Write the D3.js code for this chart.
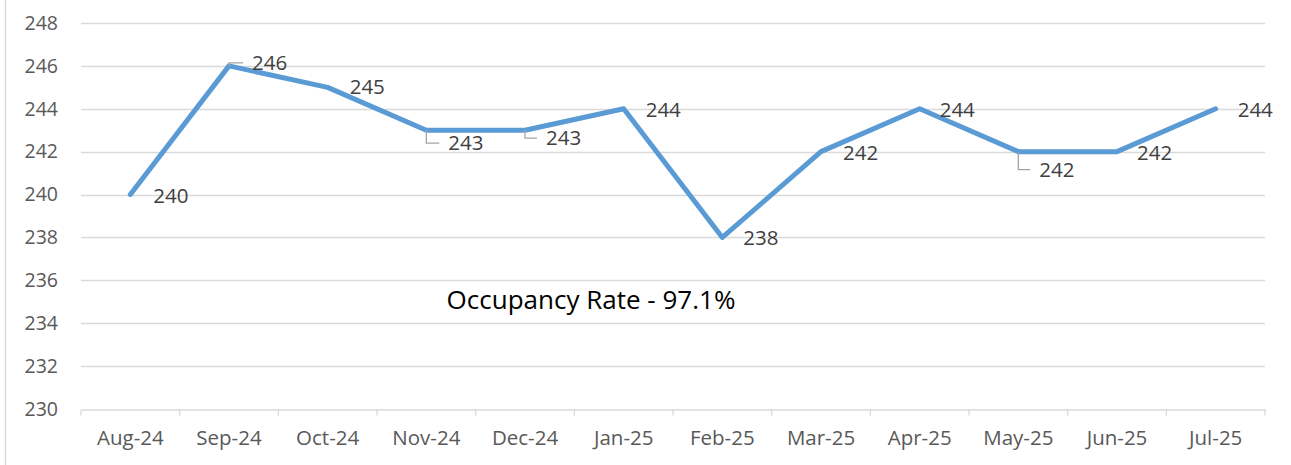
<!DOCTYPE html>
<html>
<head>
<meta charset="utf-8">
<script src="https://cdn.jsdelivr.net/npm/d3@7"></script>
<style>
  body { margin: 0; background: #fff; }
  svg { display: block; }
</style>
</head>
<body>
<svg id="drawing_region"></svg>
<script>
const months = ['Aug-24','Sep-24','Oct-24','Nov-24','Dec-24','Jan-25','Feb-25','Mar-25','Apr-25','May-25','Jun-25','Jul-25'];
const units = [240, 246, 245, 243, 243, 244, 238, 242, 244, 242, 242, 244];
const yTicks = [230, 232, 234, 236, 238, 240, 242, 244, 246, 248];
const note = 'Occupancy Rate - 97.1%';

// label placement: dx = text start from point, dy = baseline offset, leader = draw connector
const labelPos = [
    {dx:23, dy:8, leader:false},
    {dx:23, dy:4, leader:true},
    {dx:22, dy:7, leader:false},
    {dx:22, dy:20, leader:true},
    {dx:21, dy:15, leader:true},
    {dx:22, dy:8, leader:false},
    {dx:21, dy:8, leader:false},
    {dx:22, dy:8, leader:false},
    {dx:20, dy:8, leader:false},
    {dx:21, dy:25, leader:true},
    {dx:20, dy:8, leader:false},
    {dx:22, dy:8, leader:false}
];

const width = 1291, height = 465;
const margin = {top:23, right:26, bottom:56, left:81};

const svg = d3.select('#drawing_region')
    .attr('width', width)
    .attr('height', height);

const x = d3.scaleBand()
    .domain(months)
    .range([margin.left, width - margin.right])
    .padding(0);

const y = d3.scaleLinear()
    .domain([230, 248])
    .range([height - margin.bottom, margin.top]);

const font = "'Open Sans', sans-serif";

// frame line on the left
svg.append('line')
    .attr('x1', 5.5).attr('x2', 5.5)
    .attr('y1', 0).attr('y2', height)
    .attr('stroke', '#d9d9d9')
    .attr('stroke-width', 1.5);

// gridlines
svg.append('g')
    .selectAll('line')
    .data(yTicks.filter(d => d !== 230))
    .enter()
    .append('line')
    .attr('x1', margin.left)
    .attr('x2', width - margin.right)
    .attr('y1', d => Math.round(y(d)) + 0.5)
    .attr('y2', d => Math.round(y(d)) + 0.5)
    .attr('stroke', '#d9d9d9')
    .attr('stroke-width', 1.3);

// y axis labels
svg.append('g')
    .selectAll('text')
    .data(yTicks)
    .enter()
    .append('text')
    .attr('x', 58)
    .attr('y', d => y(d))
    .attr('dy', '0.35em')
    .attr('text-anchor', 'end')
    .attr('font-family', font)
    .attr('font-size', '19.5px')
    .attr('fill', '#595959')
    .text(d => d);

// x axis
const xAxis = svg.append('g')
    .attr('transform', `translate(0, ${Math.round(y(230)) + 0.5})`)
    .call(d3.axisBottom(x).tickSize(0).tickPadding(21));
xAxis.select('.domain')
    .attr('stroke', '#d9d9d9')
    .attr('stroke-width', 1.3);
xAxis.selectAll('text')
    .attr('font-family', font)
    .attr('font-size', '20.5px')
    .attr('fill', '#595959');
xAxis.selectAll('.boundary')
    .data(months.concat(['end']))
    .enter()
    .append('line')
    .attr('class', 'boundary')
    .attr('x1', (d, i) => margin.left + i * x.bandwidth())
    .attr('x2', (d, i) => margin.left + i * x.bandwidth())
    .attr('y1', 0)
    .attr('y2', 6)
    .attr('stroke', '#d9d9d9')
    .attr('stroke-width', 1.3);

const cx = d => x(d) + x.bandwidth() / 2;

// line
const line = d3.line()
    .x((d, i) => cx(months[i]))
    .y(d => y(d));

svg.append('path')
    .datum(units)
    .attr('d', line)
    .attr('fill', 'none')
    .attr('stroke', '#5b9bd5')
    .attr('stroke-width', 5)
    .attr('stroke-linejoin', 'round')
    .attr('stroke-linecap', 'round');

// leader lines
svg.append('g')
    .selectAll('path')
    .data(units.map((v, i) => ({v, i, p: labelPos[i]})).filter(d => d.p.leader))
    .enter()
    .append('path')
    .attr('d', d => {
        const px = cx(months[d.i]), py = y(d.v);
        const ly = py + d.p.dy - 7;
        return `M${px},${py} V${ly} H${px + d.p.dx - 9}`;
    })
    .attr('fill', 'none')
    .attr('stroke', '#a6a6a6')
    .attr('stroke-width', 1.3);

// data labels
svg.append('g')
    .selectAll('text')
    .data(units)
    .enter()
    .append('text')
    .attr('x', (d, i) => cx(months[i]) + labelPos[i].dx)
    .attr('y', (d, i) => y(d) + labelPos[i].dy)
    .attr('font-family', font)
    .attr('font-size', '20.5px')
    .attr('fill', '#404040')
    .text(d => d);

// annotation
svg.append('text')
    .attr('x', 591)
    .attr('y', 309)
    .attr('text-anchor', 'middle')
    .attr('font-family', font)
    .attr('font-size', '26px')
    .attr('fill', '#000')
    .text(note);
</script>
</body>
</html>
